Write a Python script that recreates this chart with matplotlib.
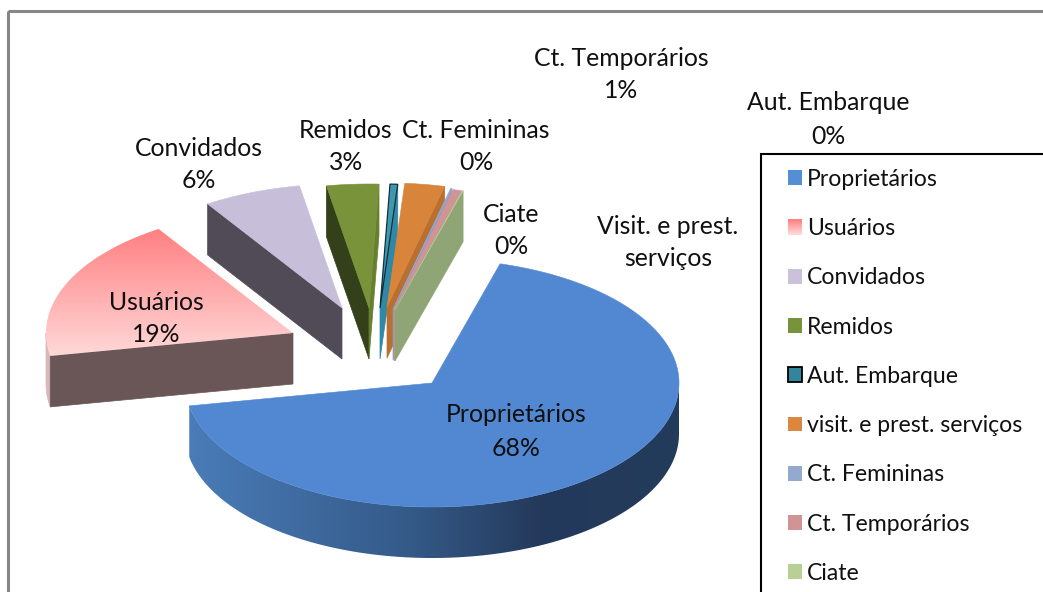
import numpy as np
import matplotlib
matplotlib.use("Agg")
import matplotlib.pyplot as plt
from matplotlib.colors import LinearSegmentedColormap
from matplotlib.patches import Rectangle, Polygon
from matplotlib.legend_handler import HandlerBase

# ---- data (percent shares)
categories = ["Proprietários", "Usuários", "Convidados", "Remidos", "Aut. Embarque",
              "visit. e prest. serviços", "Ct. Femininas", "Ct. Temporários", "Ciate"]
values = [67.6, 18.8, 6.4, 3.4, 0.5, 2.6, 0.1, 0.55, 0.05]

# ---- styles and layout
plt.rcParams["font.family"] = ["Lato", "DejaVu Sans"]
top_colors = ["#5288d2", "#ffb0b0", "#c7bfd9", "#78933a", "#3f97b0",
              "#d9843b", "#94a8cf", "#d09496", "#b5cc8e"]
legend_colors = ["#558ed5", "#ffb0b0", "#ccc1da", "#77933c", "#31859c",
                 "#dc873f", "#95a9d0", "#d09494", "#b8cf95"]
start_wall = ["#4a7cb8", "#6a5656", "#504b57", "#33401a", "#123040",
              "#b86f33", "#8899bd", "#b98c90", "#8fa474"]
end_wall = ["#4a7cb8", "#6a5656", "#504b57", "#67802f", "#2f88a5",
            "#b96f30", "#8a9cc0", "#c69094", "#90a576"]
# explosion of each slice, pixels from the pie centre
offset_x = [0, -139, -90, -63, -52, -45, -39, -38, -37]
offset_y = [0, -50, -75, -75, -75, -76, -74, -73, -73]
CX, CY, RX, RY, DEPTH = 432, 383, 247, 124, 51
START_ANGLE = 16.0
TOTAL_W, TOTAL_H = 1043, 592
FS = 17.8

label_pos = {0: (516, 415, 448), 1: (156, 302, 335), 2: (199, 149, 181), 3: (346, 130, 162),
             4: (828, 103, 136), 6: (476, 130, 162), 7: (621, 59, 90), 8: (511, 214, 246)}

fig = plt.figure(figsize=(TOTAL_W / 100, TOTAL_H / 100), dpi=100, facecolor="white")
ax = fig.add_axes([0, 0, 1, 1])
ax.set_xlim(0, TOTAL_W)
ax.set_ylim(TOTAL_H, 0)
ax.axis("off")
ax.set_autoscale_on(False)

# chart frame
ax.add_patch(Rectangle((8, 11), 1200, 800, fill=False, ec="#868686", lw=2.2, zorder=1))

pink_cmap = LinearSegmentedColormap.from_list("pink", ["#ff8082", "#ffd8d8"])
blue_cmap = LinearSegmentedColormap.from_list(
    "bluewall", [(0.0, "#4a7cb8"), (0.45, "#345a88"), (0.72, "#24395b"), (1.0, "#233c5c")])


def pts(cx, cy, th):
    th = np.radians(th)
    return cx + RX * np.sin(th), cy - RY * np.cos(th)


angles = START_ANGLE + np.concatenate([[0], np.cumsum(values)]) * 360.0 / sum(values)
order = [1, 2, 3, 4, 0, 5, 6, 7, 8]
z = 3
for i in order:
    a0, a1 = angles[i], angles[i + 1]
    cx, cy = CX + offset_x[i], CY + offset_y[i]
    th = np.linspace(a0, a1, max(int((a1 - a0) * 2), 4))
    ex, ey = pts(cx, cy, th)

    # outer wall: only the front part of the rim faces the viewer
    front = (np.mod(th, 360) >= 90) & (np.mod(th, 360) <= 270)
    if i == 0:
        fx, fy = ex[front], ey[front]
        wall = Polygon(np.c_[np.r_[fx, fx[::-1]], np.r_[fy, fy[::-1] + DEPTH]],
                       closed=True, fc="none", ec="none", zorder=z)
        ax.add_patch(wall)
        im = ax.imshow(np.linspace(0, 1, 256)[None, :], cmap=blue_cmap, aspect="auto",
                       extent=[fx.min(), fx.max(), (fy + DEPTH).max(), fy.min()],
                       zorder=z, interpolation="bilinear")
        im.set_clip_path(wall)
    elif front.any():
        tt = np.linspace(a0, 270, 12)
        fx, fy = pts(cx, cy, tt)
        ax.fill(np.r_[fx, fx[::-1]], np.r_[fy, fy[::-1] + DEPTH],
                color="#d9b8bb", lw=0.5, zorder=z)
    z += 1

    # radial walls
    if np.sin(np.radians(a0)) < 0 and i != 0:
        x0, y0 = pts(cx, cy, a0)
        ax.fill([cx, x0, x0, cx], [cy, y0, y0 + DEPTH, cy + DEPTH],
                color=start_wall[i], lw=0.5, zorder=z)
    if np.sin(np.radians(a1)) > 0 and i != 0:
        x1, y1 = pts(cx, cy, a1)
        ax.fill([cx, x1, x1, cx], [cy, y1, y1 + DEPTH, cy + DEPTH],
                color=end_wall[i], lw=0.5, zorder=z)
    z += 1

    # top face
    poly_x = np.r_[cx, ex]
    poly_y = np.r_[cy, ey]
    if i == 1:
        top = Polygon(np.c_[poly_x, poly_y], closed=True, fc="none", ec="none", zorder=z)
        ax.add_patch(top)
        im = ax.imshow(np.linspace(0, 1, 128)[:, None], cmap=pink_cmap, aspect="auto",
                       extent=[poly_x.min(), poly_x.max(), poly_y.max(), poly_y.min()],
                       zorder=z, interpolation="bilinear")
        im.set_clip_path(top)
    elif i == 4:
        ax.fill(poly_x, poly_y, fc=top_colors[i], ec="#12303c", lw=0.9, zorder=z)
    else:
        ax.fill(poly_x, poly_y, color=top_colors[i], lw=0.4, zorder=z)
    z += 1

# data labels
for i, (xc, y1, y2) in label_pos.items():
    ax.text(xc, y1, categories[i], ha="center", va="center", fontsize=FS, color="#101010", zorder=50)
    ax.text(xc, y2, f"{values[i]:.0f}%", ha="center", va="center", fontsize=FS, color="#101010", zorder=50)
ax.text(668, 227, "Visit. e prest.", ha="center", va="center", fontsize=FS, color="#101010", zorder=50)
ax.text(668, 259, "serviços", ha="center", va="center", fontsize=FS, color="#101010", zorder=50)

# legend box runs off the picture on the right and at the bottom
ax.add_patch(Rectangle((761, 154), 600, 800, fc="white", ec="black", lw=1.5, zorder=40))


class GradientHandler(HandlerBase):
    def create_artists(self, legend, orig, xd, yd, w, h, fs, trans):
        out = []
        n = 14
        for k in range(n):
            c = pink_cmap(1 - (k + 0.5) / n)
            out.append(Rectangle((-xd, -yd + h * k / n), w, h / n + 0.3, fc=c, ec="none", transform=trans))
        return out


handles = []
for i, c in enumerate(legend_colors):
    if i == 4:
        handles.append(Rectangle((0, 0), 1, 1, fc=c, ec="black", lw=1.3))
    else:
        handles.append(Rectangle((0, 0), 1, 1, fc=c, ec="none"))
fs_leg = 16.6
leg = ax.legend(handles, categories, loc="upper left", bbox_to_anchor=(788, 169),
                bbox_transform=ax.transData, frameon=False, fontsize=fs_leg,
                borderpad=0, borderaxespad=0, handlelength=10.1 / fs_leg, handleheight=10.1 / fs_leg,
                handletextpad=3.6 / fs_leg, labelspacing=1.225, labelcolor="#101010",
                handler_map={handles[1]: GradientHandler()})
leg.set_zorder(60)

fig.savefig("out.png", dpi=100)
